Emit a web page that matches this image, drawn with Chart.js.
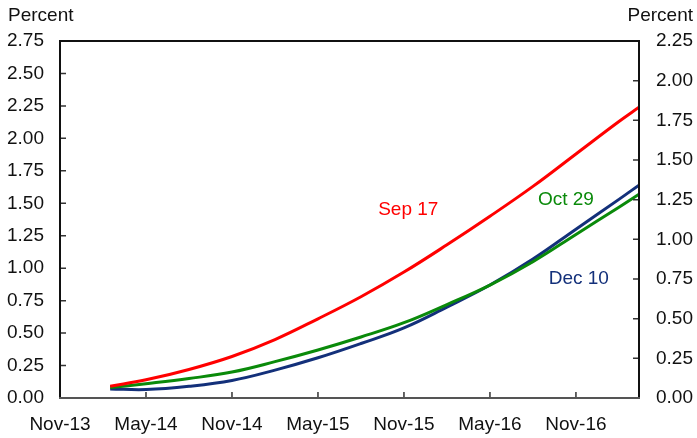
<!DOCTYPE html>
<html>
<head>
<meta charset="utf-8">
<script src="https://cdn.jsdelivr.net/npm/chart.js@4.4.0/dist/chart.umd.min.js"></script>
<style>
  html, body { margin: 0; padding: 0; background: #fff; }
  #wrap { width: 697px; height: 438px; }
</style>
</head>
<body>
<div id="wrap"><canvas id="chart" width="697" height="438"></canvas></div>
<script>
// months counted from Nov-13 (0 = Nov-13)
const months = [3.5, 6, 9, 12, 15, 18, 21, 24, 27, 30, 33, 36, 39, 40.4];
const sep17 = [0.09, 0.14, 0.22, 0.32, 0.45, 0.61, 0.78, 0.97, 1.18, 1.40, 1.63, 1.88, 2.13, 2.24];
const oct29 = [0.08, 0.11, 0.15, 0.20, 0.28, 0.37, 0.47, 0.58, 0.72, 0.87, 1.05, 1.26, 1.47, 1.57];
const dec10 = [0.07, 0.065, 0.09, 0.135, 0.215, 0.31, 0.42, 0.54, 0.70, 0.87, 1.07, 1.30, 1.53, 1.64];
const xLabels = ["Nov-13", "May-14", "Nov-14", "May-15", "Nov-15", "May-16", "Nov-16"];

const font = "Liberation Sans, Arial, sans-serif";

const pts = arr => arr.map((v, i) => ({ x: months[i], y: v }));

// label text placed next to each line
const lineLabels = [
  { text: "Sep 17", x: 24.3, y: 1.45, color: "#ff0000" },
  { text: "Oct 29", x: 35.3, y: 1.53, color: "#0a8a0a" },
  { text: "Dec 10", x: 36.2, y: 0.92, color: "#13307a" }
];

const frame = {
  id: "frame",
  afterDraw(chart) {
    const { ctx, chartArea: a, scales } = chart;
    ctx.save();
    // ticks pointing inwards
    ctx.strokeStyle = "#333";
    ctx.lineWidth = 1.5;
    ctx.beginPath();
    scales.y.ticks.forEach(t => {
      const y = scales.y.getPixelForValue(t.value);
      ctx.moveTo(a.left, y); ctx.lineTo(a.left + 6, y);
    });
    scales.y2.ticks.forEach(t => {
      const y = scales.y2.getPixelForValue(t.value);
      ctx.moveTo(a.right, y); ctx.lineTo(a.right - 6, y);
    });
    scales.x.ticks.forEach(t => {
      const x = scales.x.getPixelForValue(t.value);
      ctx.moveTo(x, a.bottom); ctx.lineTo(x, a.bottom - 6);
    });
    ctx.stroke();

    ctx.lineWidth = 2;
    ctx.strokeStyle = "#111";
    ctx.beginPath();
    ctx.moveTo(a.left, a.bottom); ctx.lineTo(a.left, a.top);
    ctx.lineTo(a.right, a.top); ctx.lineTo(a.right, a.bottom);
    ctx.stroke();
    ctx.strokeStyle = "#555";
    ctx.beginPath();
    ctx.moveTo(a.left - 1, a.bottom); ctx.lineTo(a.right + 1, a.bottom);
    ctx.stroke();

    // "Percent" titles
    ctx.fillStyle = "#111";
    ctx.font = "19px " + font;
    ctx.textBaseline = "middle";
    ctx.textAlign = "left";
    ctx.fillText("Percent", 8, 16);
    ctx.textAlign = "right";
    ctx.fillText("Percent", 693, 16);

    // series labels
    ctx.textAlign = "center";
    lineLabels.forEach(l => {
      ctx.fillStyle = l.color;
      ctx.fillText(l.text, scales.x.getPixelForValue(l.x), scales.y.getPixelForValue(l.y));
    });
    ctx.restore();
  }
};

new Chart(document.getElementById("chart"), {
  type: "line",
  data: {
    datasets: [
      { label: "Sep 17", data: pts(sep17), borderColor: "#ff0000" },
      { label: "Oct 29", data: pts(oct29), borderColor: "#0a8a0a" },
      { label: "Dec 10", data: pts(dec10), borderColor: "#13307a" }
    ]
  },
  options: {
    responsive: false,
    animation: false,
    layout: { padding: { top: 41, left: 0, right: 0, bottom: 0 } },
    elements: {
      line: { borderWidth: 3, tension: 0.4, fill: false },
      point: { radius: 0 }
    },
    plugins: { legend: { display: false }, tooltip: { enabled: false } },
    scales: {
      x: {
        type: "linear",
        min: 0,
        max: 40.4,
        grid: { display: false, drawTicks: false },
        border: { display: false },
        ticks: {
          stepSize: 6,
          includeBounds: false,
          autoSkip: false,
          maxRotation: 0,
          padding: 15,
          color: "#111",
          font: { family: font, size: 19 },
          callback: v => xLabels[Math.round(v / 6)] || ""
        },
        afterFit: s => { s.height = 40; }
      },
      y: {
        position: "left",
        min: 0,
        max: 2.75,
        grid: { display: false, drawTicks: false },
        border: { display: false },
        ticks: {
          stepSize: 0.25,
          padding: 16,
          color: "#111",
          font: { family: font, size: 19 },
          callback: v => v.toFixed(2)
        },
        afterFit: s => { s.width = 60; }
      },
      y2: {
        position: "right",
        min: 0,
        max: 2.25,
        grid: { display: false, drawTicks: false },
        border: { display: false },
        ticks: {
          stepSize: 0.25,
          padding: 17,
          color: "#111",
          font: { family: font, size: 19 },
          callback: v => v.toFixed(2)
        },
        afterFit: s => { s.width = 58; }
      }
    }
  },
  plugins: [frame]
});
</script>
</body>
</html>
